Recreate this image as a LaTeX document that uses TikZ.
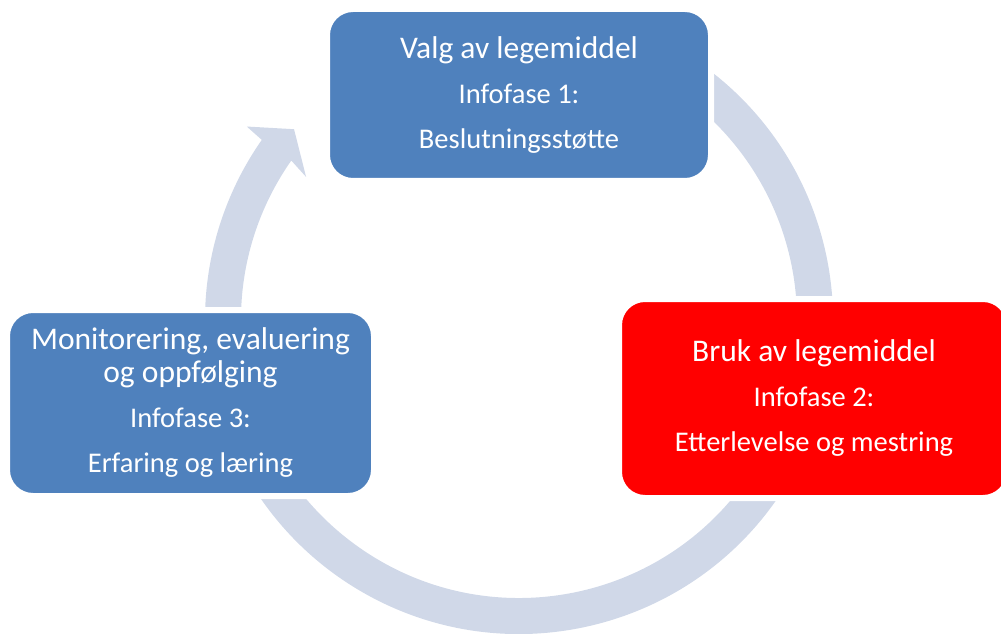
\documentclass[tikz,border=0pt]{standalone}
\usepackage{fontspec}
\setmainfont{Carlito}
\definecolor{azul}{RGB}{79,129,189}
\definecolor{vermelho}{RGB}{255,0,0}
\definecolor{seta}{RGB}{208,216,232}

\begin{document}
\begin{tikzpicture}[x=1pt, y=1pt, %Escala: 1 unidade = 1 pixel
		caixa/.style={rounded corners=26pt, draw=white, line width=6pt, inner sep=0pt, text=white, align=center, font=\fontsize{28.5}{45}\selectfont}] %Estilo das caixas
					\useasboundingbox (0,0) rectangle (1001,633); %Tamanho da figura
					\clip (0,0) rectangle (1001,633);
						%Seta circular
					\coordinate (c) at (519,313); %Centro do ciclo
					\fill[seta] ([shift={(60:314)}]c) arc[start angle=60, end angle=-215, radius=314] -- ([shift={(-215.4:334)}]c) -- ([shift={(-220.3:295)}]c) -- ([shift={(-213.9:256.5)}]c) -- ([shift={(-215:278)}]c) arc[start angle=-215, end angle=60, radius=278] -- cycle; %Faixa e ponta da seta
						%Caixas
					\node[caixa, fill=azul, minimum width=384, minimum height=172] (valg) at (519,538) {{\fontsize{31.5}{45}\selectfont Valg av legemiddel}\\ Infofase 1:\\ Beslutningsstøtte}; %Infofase 1
					\node[caixa, fill=vermelho, minimum width=390, minimum height=199] (bruk) at (814,234.5) {{\fontsize{31.5}{45}\selectfont Bruk av legemiddel}\\ Infofase 2:\\ Etterlevelse og mestring}; %Infofase 2
					\node[caixa, fill=azul, minimum width=367, minimum height=186] (monitorering) at (190.5,230) {{\fontsize{31.5}{45}\selectfont Monitorering, evaluering}\\[-12pt] {\fontsize{31.5}{45}\selectfont og oppfølging}\\ Infofase 3:\\ Erfaring og læring}; %Infofase 3
				\end{tikzpicture}
\end{document}
